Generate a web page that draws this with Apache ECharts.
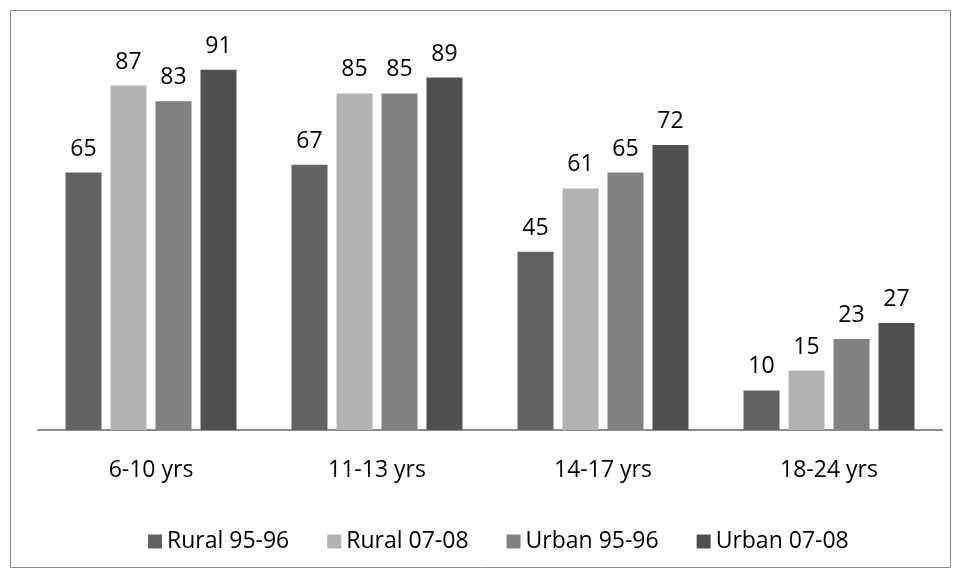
<!DOCTYPE html>
<html>
<head>
<meta charset="utf-8">
<script src="https://cdn.jsdelivr.net/npm/echarts@6/dist/echarts.min.js"></script>
<style>html,body{margin:0;padding:0;background:#fff}#c{width:961px;height:580px}</style>
</head>
<body>
<div id="c"></div>
<script>
const categories = ['6-10 yrs', '11-13 yrs', '14-17 yrs', '18-24 yrs'];
const rural9596 = [65, 67, 45, 10];
const rural0708 = [87, 85, 61, 15];
const urban9596 = [83, 85, 65, 23];
const urban0708 = [91, 89, 72, 27];
const seriesNames = ['Rural 95-96', 'Rural 07-08', 'Urban 95-96', 'Urban 07-08'];
const colors = ['#626262', '#b3b3b3', '#818181', '#505050'];

const font = '"Open Sans", sans-serif';
const fs = 23;
const chart = echarts.init(document.getElementById('c'));
const data = [rural9596, rural0708, urban9596, urban0708];
chart.setOption({
  animation: false,
  textStyle: { fontFamily: font },
  graphic: [{
    type: 'rect', shape: { x: 10.5, y: 10.5, width: 940, height: 557 },
    style: { fill: 'none', stroke: '#898989', lineWidth: 1 }, z: -1
  }],
  grid: { left: 38, right: 19, top: 34, bottom: 150, containLabel: false },
  xAxis: {
    type: 'category', data: categories,
    axisLine: { lineStyle: { color: '#8c8c8c', width: 2 } },
    axisTick: { show: false },
    axisLabel: { color: '#000', fontSize: fs, margin: 29, fontFamily: font }
  },
  yAxis: { type: 'value', min: 0, max: 100, show: false, splitLine: { show: false } },
  legend: {
    bottom: 22, left: 143, itemWidth: 14, itemHeight: 14, itemGap: 38,
    icon: 'rect',
    textStyle: { color: '#000', fontSize: fs, fontFamily: font },
    data: seriesNames
  },
  series: data.map((d, i) => ({
    name: seriesNames[i], type: 'bar', data: d,
    barWidth: 36, barGap: '25%',
    itemStyle: { color: colors[i] },
    label: { show: true, position: 'top', distance: 12, color: '#000', fontSize: fs, fontFamily: font }
  }))
});
</script>
</body>
</html>
